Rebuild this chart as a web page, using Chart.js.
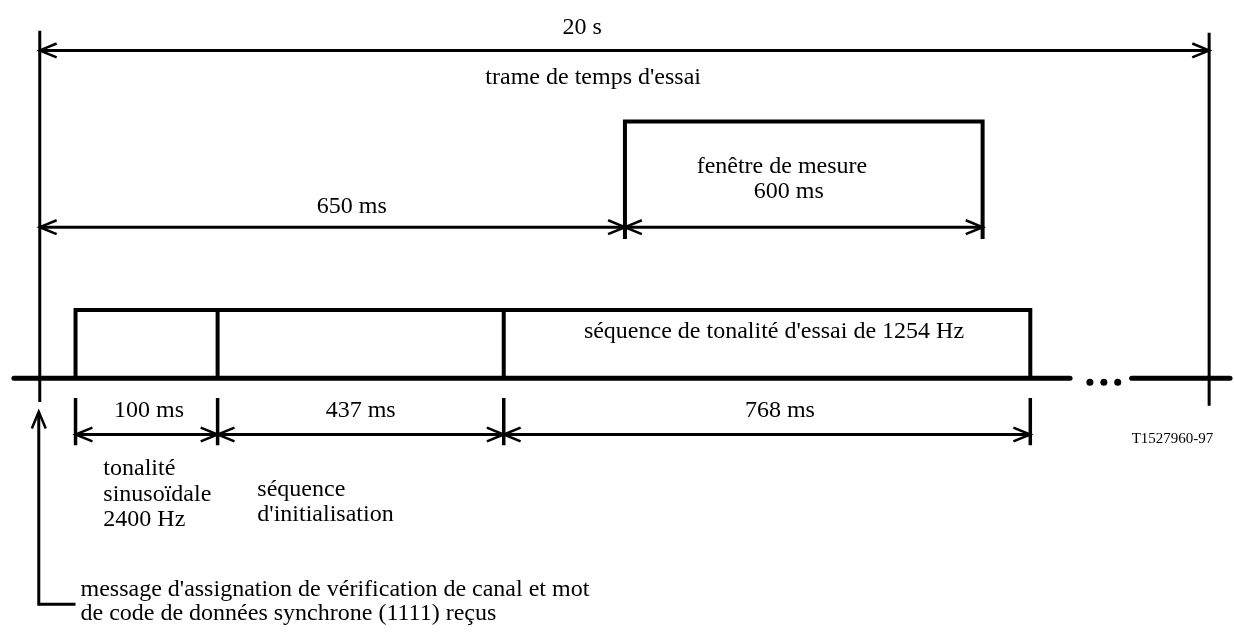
<!DOCTYPE html>
<html>
<head>
<meta charset="utf-8">
<script src="https://cdn.jsdelivr.net/npm/chart.js@4.4.1/dist/chart.umd.min.js"></script>
<style>
  html, body { margin: 0; padding: 0; background: #fff; }
  #wrap { width: 1234px; height: 635px; position: relative; }
</style>
</head>
<body>
<div id="wrap"><canvas id="chart"></canvas></div>
<script>
// the diagram is not to time scale, x values are layout units along the time axis
const frameEdges = [36, 1213];
const frameLabels = ['20 s', "trame de temps d'essai"];
const windowEdges = [625, 985];
const windowLabels = ['fenêtre de mesure', '600 ms'];
const delayLabel = '650 ms';
const burstEdges = [72, 215, 503, 1033];
const burstDurations = ['100 ms', '437 ms', '768 ms'];
const burstNames = [['tonalité', 'sinusoïdale', '2400 Hz'], ['séquence', "d'initialisation"]];
const testToneName = "séquence de tonalité d'essai de 1254 Hz";
const gapDots = [1093, 1107, 1121];
const triggerLines = ["message d'assignation de vérification de canal et mot", 'de code de données synchrone (1111) reçus'];
const figureRef = 'T1527960-97';

// vertical levels of the drawing
const lv = {
    frameTop: 27, frameArrow: 47, frameBottom: 405,
    windowTop: 119, windowArrow: 226, windowBottom: 238,
    burstTop: 310, baseline: 379,
    tickTop: 399, durArrow: 436, tickBottom: 447,
    triggerTip: 413, triggerCorner: 608
};

const datasets = [];
const pt = (x, y) => ({x: x, y: y});

function line(points, width, cap) {
    datasets.push({
        data: points.map(p => pt(p[0], p[1])),
        showLine: true,
        borderColor: '#000',
        borderWidth: width,
        borderCapStyle: cap || 'butt',
        borderJoinStyle: 'miter',
        pointRadius: 0,
        fill: false,
        tension: 0,
        clip: false
    });
}

// open chevron head, dir = +1 points right, -1 points left
function head(x, y, dir) {
    line([[x - dir * 17, y - 7], [x, y], [x - dir * 17, y + 7]], 2.5);
}

function arrow(x1, x2, y) {
    line([[x1, y], [x2, y]], 3);
    head(x1, y, -1);
    head(x2, y, 1);
}

// test time frame
line([[frameEdges[0], lv.frameTop], [frameEdges[0], lv.frameBottom - 2]], 3);
line([[frameEdges[1], lv.frameTop + 2], [frameEdges[1], lv.frameBottom + 2]], 3);
arrow(frameEdges[0], frameEdges[1], lv.frameArrow);

// measuring window
line([[windowEdges[0], lv.windowBottom], [windowEdges[0], lv.windowTop], [windowEdges[1], lv.windowTop], [windowEdges[1], lv.windowBottom]], 4);
arrow(frameEdges[0], windowEdges[0], lv.windowArrow);
arrow(windowEdges[0], windowEdges[1], lv.windowArrow);

// burst
const last = burstEdges.length - 1;
line([[burstEdges[0], lv.baseline], [burstEdges[0], lv.burstTop], [burstEdges[last], lv.burstTop], [burstEdges[last], lv.baseline]], 4);
for (let i = 1; i < last; i++) {
    line([[burstEdges[i], lv.burstTop], [burstEdges[i], lv.baseline]], 4);
}

// time axis, broken before the end of the frame
line([[10, lv.baseline], [gapDots[0] - 20, lv.baseline]], 5, 'round');
line([[gapDots[2] + 14, lv.baseline], [1234, lv.baseline]], 5, 'round');
datasets.push({
    data: gapDots.map(x => pt(x, lv.baseline + 4)),
    showLine: false,
    pointRadius: 3.5,
    pointBackgroundColor: '#000',
    pointBorderWidth: 0,
    clip: false
});

// durations below the axis
burstEdges.forEach(x => line([[x, lv.tickTop], [x, lv.tickBottom]], 3.5));
for (let i = 0; i < last; i++) {
    arrow(burstEdges[i], burstEdges[i + 1], lv.durArrow);
}

// trigger arrow
line([[35, lv.triggerTip + 2], [35, lv.triggerCorner], [72, lv.triggerCorner]], 3);
line([[28, lv.triggerTip + 17], [35, lv.triggerTip], [42, lv.triggerTip + 17]], 2.5);

// text items: text, x, y, align, size
const texts = [
    [frameLabels[0], 582, 24, 'center', 24],
    [frameLabels[1], 593, 75, 'center', 24],
    [windowLabels[0], 783, 165, 'center', 24],
    [windowLabels[1], 790, 190, 'center', 24],
    [delayLabel, 350, 205, 'center', 24],
    [testToneName, 775, 332, 'center', 24],
    [burstDurations[0], 146, 412, 'center', 24],
    [burstDurations[1], 359, 412, 'center', 24],
    [burstDurations[2], 781, 412, 'center', 24],
    [figureRef, 1135, 441, 'left', 15],
    [burstNames[0][0], 100, 471, 'left', 24],
    [burstNames[0][1], 100, 497, 'left', 24],
    [burstNames[0][2], 100, 522, 'left', 24],
    [burstNames[1][0], 255, 492, 'left', 24],
    [burstNames[1][1], 255, 517, 'left', 24],
    [triggerLines[0], 77, 593, 'left', 24],
    [triggerLines[1], 77, 617, 'left', 24]
];

const textPlugin = {
    id: 'diagramText',
    afterDatasetsDraw(chart) {
        const ctx = chart.ctx;
        const xs = chart.scales.x;
        const ys = chart.scales.y;
        ctx.save();
        ctx.fillStyle = '#000';
        ctx.textBaseline = 'middle';
        texts.forEach(t => {
            ctx.font = t[4] + 'px "Liberation Serif", "Times New Roman", serif';
            ctx.textAlign = t[3];
            ctx.fillText(t[0], xs.getPixelForValue(t[1]), ys.getPixelForValue(t[2]));
        });
        ctx.restore();
    }
};

new Chart(document.getElementById('chart').getContext('2d'), {
    type: 'scatter',
    data: {datasets: datasets},
    options: {
        responsive: true,
        maintainAspectRatio: false,
        animation: false,
        events: [],
        layout: {padding: 0},
        scales: {
            x: {type: 'linear', min: 0, max: 1234, display: false},
            y: {type: 'linear', min: 0, max: 635, reverse: true, display: false}
        },
        plugins: {
            legend: {display: false},
            tooltip: {enabled: false}
        }
    },
    plugins: [textPlugin]
});
</script>
</body>
</html>
